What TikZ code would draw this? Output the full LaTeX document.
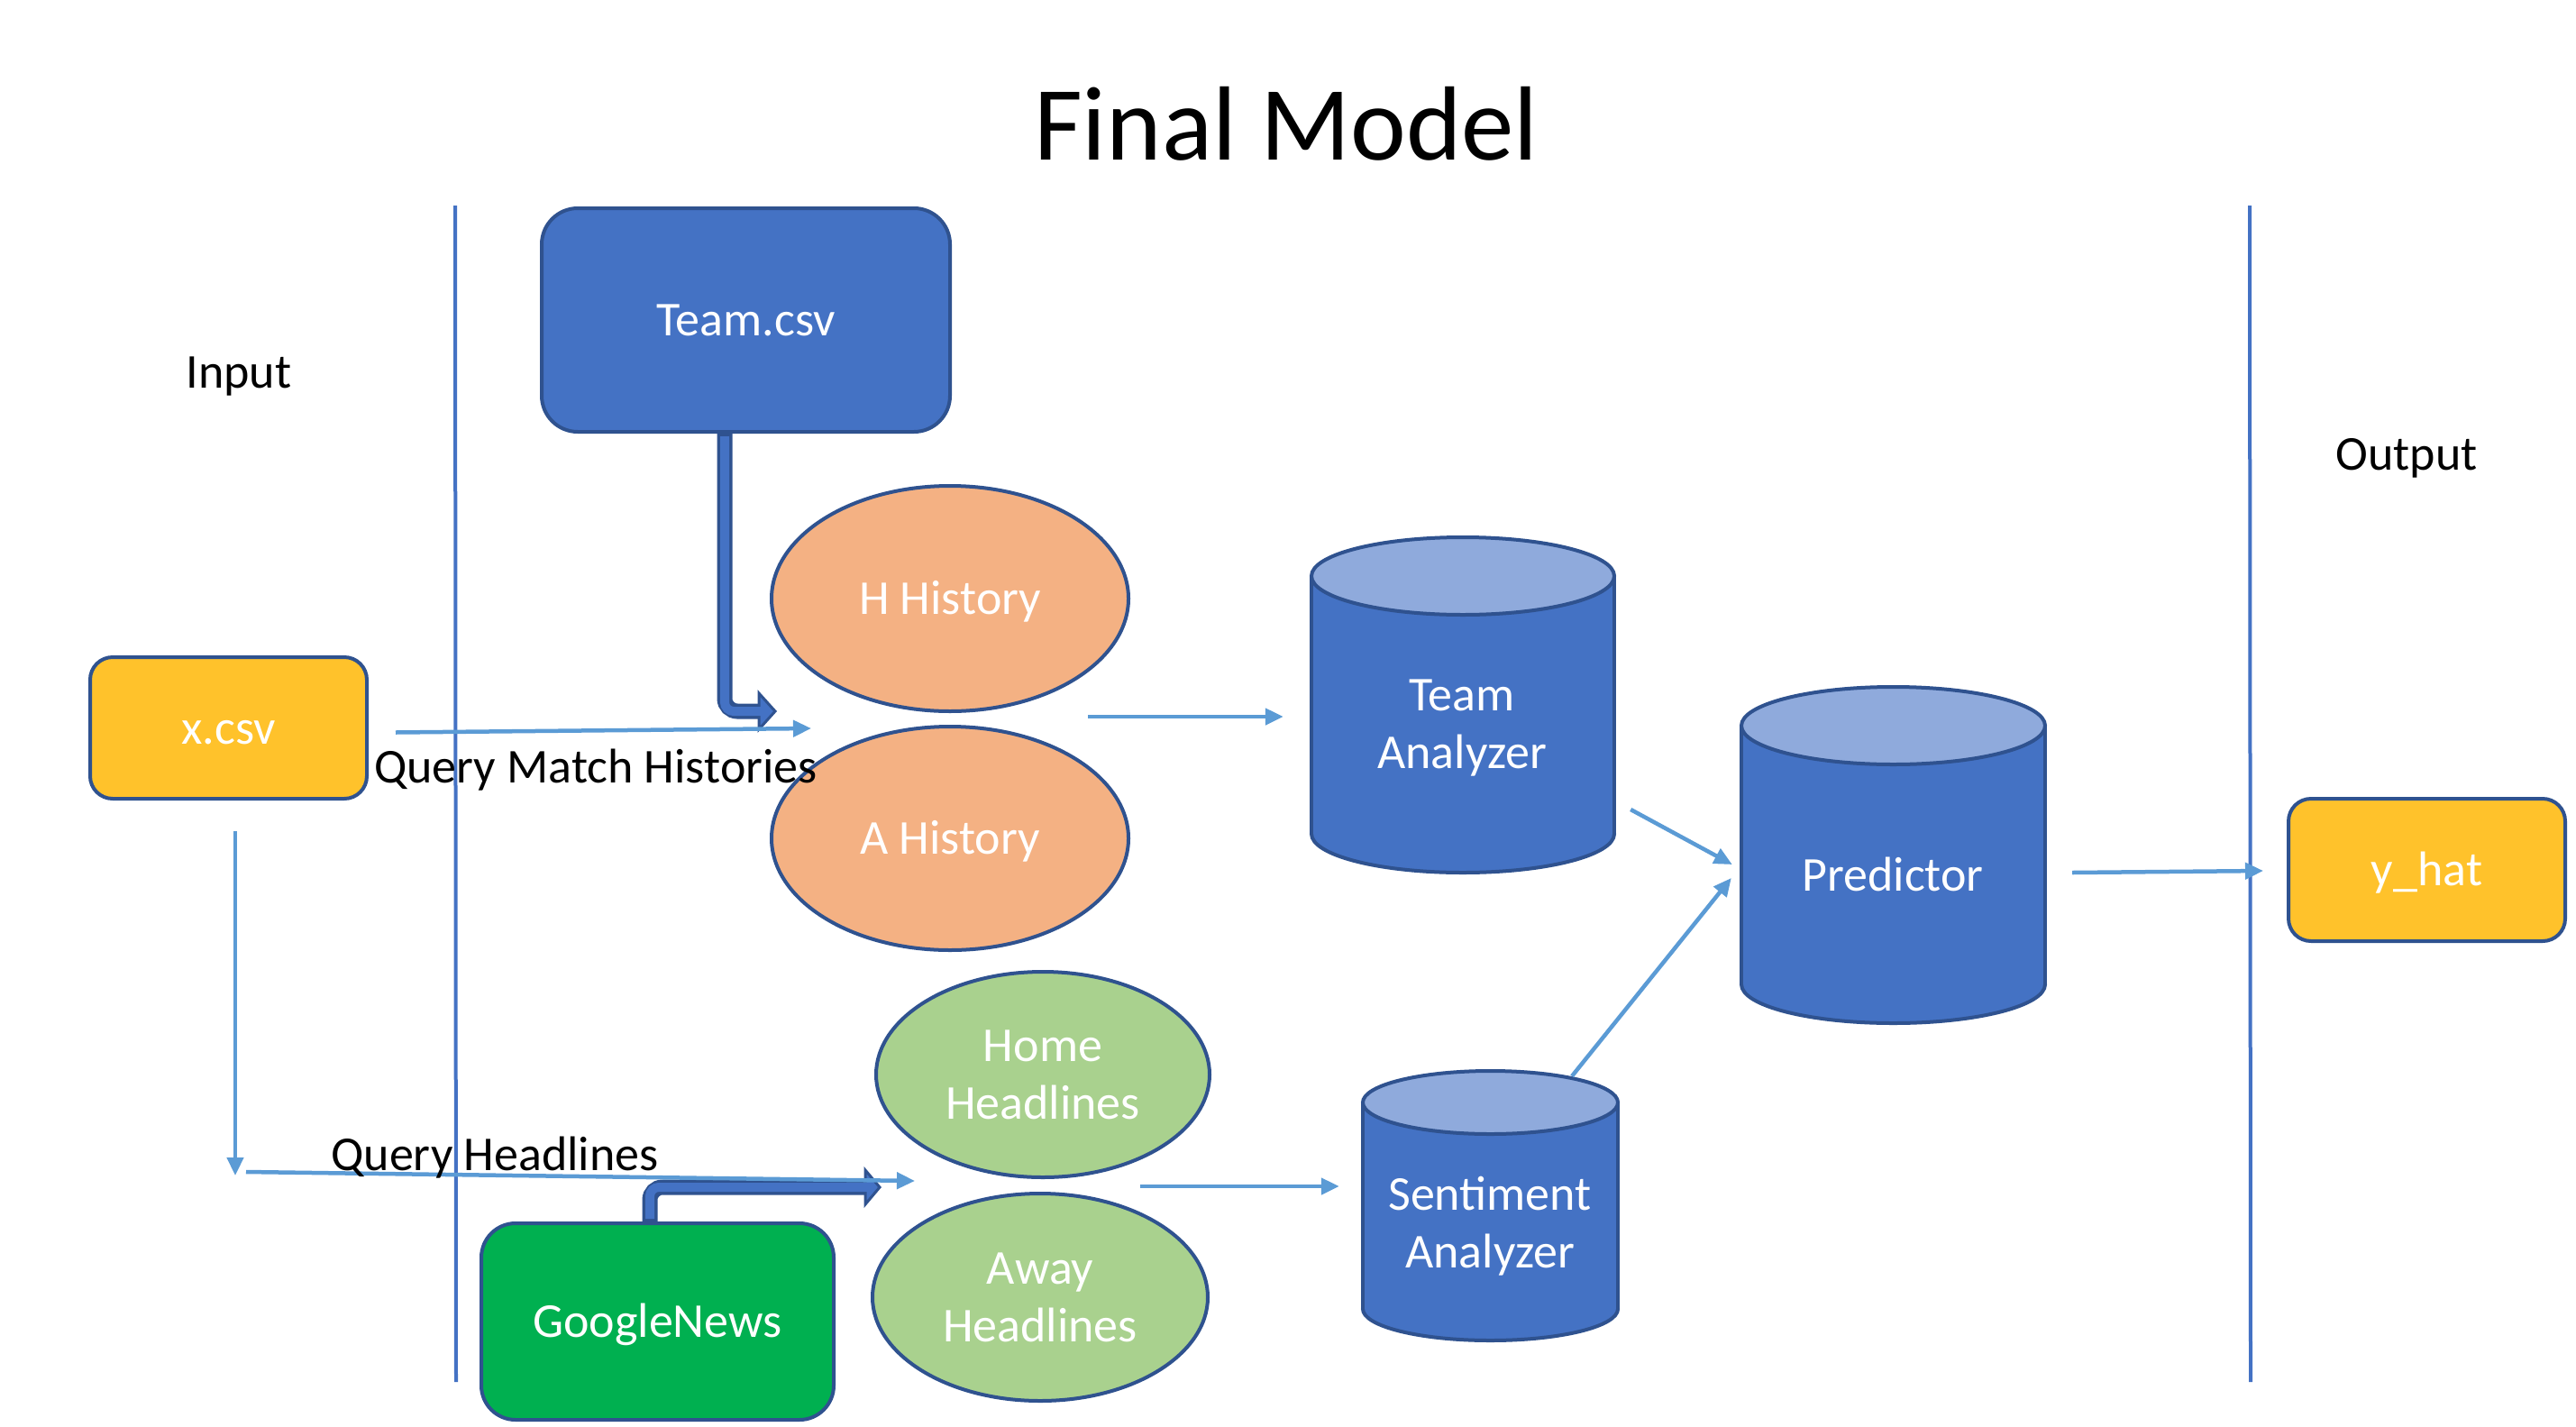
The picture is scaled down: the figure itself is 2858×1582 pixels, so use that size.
\documentclass[tikz,border=0pt]{standalone}
\usepackage{fontspec}
\setmainfont{Carlito}
\usetikzlibrary{shapes.geometric,arrows.meta,calc}
\definecolor{mblue}{HTML}{4472C4}
\definecolor{mborder}{HTML}{2F528F}
\definecolor{mlight}{HTML}{8FAADC}
\definecolor{morange}{HTML}{F4B183}
\definecolor{mgreen}{HTML}{A9D18E}
\definecolor{mgreentwo}{HTML}{00B050}
\definecolor{myellow}{HTML}{FFC22B}
\definecolor{marrow}{HTML}{5B9BD5}
\newcommand\mycyl[6]{%
  \filldraw[fill=mblue, draw=mborder, line width=4pt] (#2,#4) ellipse [x radius=#5, y radius=#6];
  \fill[mblue] (#2-#5,#3) rectangle (#2+#5,#4);
  \draw[mborder, line width=4pt] (#2-#5,#3) -- (#2-#5,#4) (#2+#5,#3) -- (#2+#5,#4);
  \filldraw[fill=mlight, draw=mborder, line width=4pt] (#2,#3) ellipse [x radius=#5, y radius=#6];
  \node[inner sep=0pt, minimum width=2*#5 pt, minimum height=#4-#3+2*#6 pt] (#1) at (#2,{(#3+#4)/2}) {};
}
\begin{document}
\begin{tikzpicture}[x=1pt,y=-1pt,
  lbl/.style={font=\fontsize{54}{64}\selectfont, inner sep=0pt},
  wlbl/.style={lbl, text=white, align=center},
  oneline/.style={text height=40pt, text depth=5pt},
  box/.style={wlbl, draw=mborder, line width=4pt, rectangle},
  ell/.style={wlbl, ellipse, draw=mborder, line width=4pt},
  conn/.style={draw=marrow, line width=4.5pt, -{Triangle[length=20pt,width=18pt]}},
  sepline/.style={draw=mblue, line width=4pt}
]
\fill[white] (0,0) rectangle (2858,1582);
\path[use as bounding box] (0,0) rectangle (2858,1582);

% title and labels
\node[inner sep=0pt, font=\fontsize{117}{130}\selectfont] (title) at (1427,137) {Final Model};
\node[lbl, anchor=base] (input) at (265,430) {Input};
\node[lbl] (output) at (2670,508) {Output};

% separators
\coordinate (s1a) at (505,228); \coordinate (s1b) at (506,1533);
\coordinate (s2a) at (2496,228); \coordinate (s2b) at (2497,1533);
\draw[sepline] (s1a) -- (s1b);
\draw[sepline] (s2a) -- (s2b);

% boxes
\node[box, oneline, fill=mblue, rounded corners=40pt, minimum width=453pt, minimum height=248pt] (team) at (827.5,355) {Team.csv};
\node[box, oneline, fill=myellow, rounded corners=25pt, minimum width=307pt, minimum height=157pt] (xcsv) at (253.5,807.5) {x.csv};
\node[box, oneline, fill=mgreentwo, rounded corners=38pt, minimum width=391pt, minimum height=218pt] (gnews) at (729.5,1466) {GoogleNews};
\node[box, oneline, fill=myellow, rounded corners=25pt, minimum width=307pt, minimum height=158pt] (yhat) at (2692.5,965) {y\_hat};

% ellipses
\node[ell, oneline, fill=morange, minimum width=396pt, minimum height=250pt] (hh) at (1054,664) {H History};
\node[ell, oneline, fill=morange, minimum width=396pt, minimum height=248pt] (ah) at (1054,930) {A History};
\node[ell, fill=mgreen, minimum width=370pt, minimum height=228pt] (home) at (1157,1192) {Home\\Headlines};
\node[ell, fill=mgreen, minimum width=372pt, minimum height=230pt] (away) at (1154,1439) {Away\\Headlines};

% cylinders
\mycyl{ta}{1623}{639}{925}{168}{43}
\mycyl{pred}{2100.5}{805}{1092}{168.5}{43}
\mycyl{sa}{1653.5}{1223}{1452}{141.5}{35}
\node[wlbl] (tatext) at (1622,808) {Team\\Analyzer};
\node[wlbl, oneline] (predtext) at (2100,970.5) {Predictor};
\node[wlbl] (satext) at (1653,1360) {Sentiment\\Analyzer};

% thick block arrows
\coordinate (tk1) at ($(team.south)+(-23.5,0)$);
\coordinate (tk2) at (804,789);
\coordinate (tk3) at (842,789);
\draw[mborder, line width=17pt, rounded corners=14pt] (tk1) -- (tk2) -- (tk3);
\filldraw[fill=mblue, draw=mborder, line width=3pt] (842,769) -- (860,789) -- (842,809) -- cycle;
\draw[mblue, line width=10pt, rounded corners=10pt] ($(tk1)+(0,3)$) -- (tk2) -- ($(tk3)+(4,0)$);

\coordinate (gk1) at ($(gnews.north)+(-8.5,0)$);
\coordinate (gk2) at (721,1317);
\coordinate (gk3) at (960,1317);
\draw[mborder, line width=17pt, rounded corners=14pt] (gk1) -- (gk2) -- (gk3);
\filldraw[fill=mblue, draw=mborder, line width=3pt] (960,1298) -- (976,1317) -- (960,1336) -- cycle;
\draw[mblue, line width=10pt, rounded corners=10pt] ($(gk1)+(0,-3)$) -- (gk2) -- ($(gk3)+(4,0)$);

% connectors
\coordinate (qh) at (261,1304);
\draw[conn] ($(xcsv.east)+(30,5)$) -- ($(ah.north)+(-154,4)$);
\draw[conn] ($(xcsv.south)+(7.5,34)$) -- (qh);
\draw[conn] ($(qh)+(12,-4)$) -- ($(home.south)+(-142,2)$);
\draw[conn] ($(hh.south)+(153,4)$) -- ($(ta.west)+(-31,13)$);
\draw[conn] ($(home.south)+(108,8)$) -- ($(sa.west)+(-26,-21.5)$);
\draw[conn] ($(ta.east)+(18,116)$) -- ($(pred.west)+(-10,10.5)$);
\draw[conn] ($(sa.north)+(90.5,6)$) -- ($(pred.west)+(-11,25.5)$);
\draw[conn] ($(pred.east)+(30,19.5)$) -- ($(yhat.west)+(-26,1)$);

% connector labels
\node[lbl, anchor=base west] (qmh) at (415,868) {Query Match Histories};
\node[lbl, anchor=base] (qhl) at (549,1298) {Query Headlines};
\end{tikzpicture}
\end{document}
